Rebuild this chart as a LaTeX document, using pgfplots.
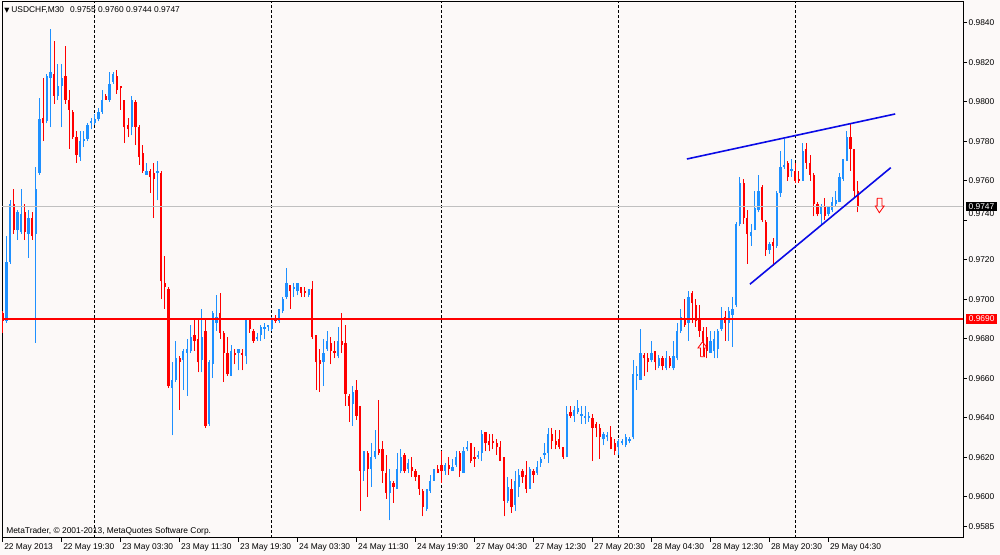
\documentclass[border=0pt]{standalone}
\usepackage{fontspec}
\setmainfont{Liberation Sans}
\newfontfamily\dejavu{DejaVu Sans}
\usepackage{pgfplots}
\usepackage{pgfplotstable}
\pgfplotsset{compat=1.18}
\definecolor{bgc}{RGB}{252,249,248}
\definecolor{bull}{RGB}{30,144,255}
\definecolor{bear}{RGB}{255,0,0}
\definecolor{tline}{RGB}{10,10,230}
\definecolor{bidline}{RGB}{192,192,192}
\newcommand{\lblfont}{\fontsize{6.3}{7.5}\selectfont}

\pgfplotstableread{
i o h l c
0 0.9693 0.9694 0.9683 0.9689
1 0.9689 0.9732 0.9688 0.9719
2 0.9719 0.9750 0.9718 0.9748
3 0.9748 0.9756 0.9733 0.9735
4 0.9735 0.9745 0.9730 0.9744
5 0.9734 0.9756 0.9733 0.9743
6 0.9744 0.9748 0.9730 0.9734
7 0.9733 0.9745 0.9721 0.9741
8 0.9741 0.9744 0.9730 0.9732
9 0.9733 0.9767 0.9678 0.9756
10 0.9764 0.9802 0.9763 0.9791
11 0.9792 0.9812 0.9780 0.9789
12 0.9790 0.9814 0.9789 0.9813
13 0.9812 0.9837 0.9787 0.9815
14 0.9814 0.9831 0.9799 0.9803
15 0.9803 0.9819 0.9801 0.9808
16 0.9808 0.9819 0.9787 0.9812
17 0.9813 0.9828 0.9799 0.9801
18 0.9801 0.9806 0.9776 0.9796
19 0.9795 0.9796 0.9781 0.9782
20 0.9782 0.9785 0.9769 0.9773
21 0.9772 0.9785 0.9770 0.9780
22 0.9780 0.9785 0.9777 0.9781
23 0.9781 0.9789 0.9780 0.9788
24 0.9789 0.9792 0.9786 0.9790
25 0.9789 0.9794 0.9788 0.9791
26 0.9791 0.9797 0.9790 0.9795
27 0.9795 0.9806 0.9794 0.9801
28 0.9803 0.9804 0.9801 0.9801
29 0.9801 0.9815 0.9800 0.9809
30 0.9810 0.9815 0.9809 0.9814
31 0.9813 0.9816 0.9804 0.9806
32 0.9808 0.9808 0.9796 0.9807
33 0.9801 0.9801 0.9779 0.9787
34 0.9788 0.9792 0.9782 0.9786
35 0.9787 0.9803 0.9783 0.9801
36 0.9800 0.9801 0.9778 0.9787
37 0.9787 0.9788 0.9768 0.9772
38 0.9774 0.9778 0.9764 0.9765
39 0.9763 0.9769 0.9763 0.9765
40 0.9765 0.9766 0.9754 0.9762
41 0.9764 0.9769 0.9741 0.9761
42 0.9764 0.9770 0.9750 0.9765
43 0.9764 0.9765 0.9700 0.9709
44 0.9708 0.9722 0.9695 0.9706
45 0.9705 0.9706 0.9655 0.9656
46 0.9655 0.9668 0.9631 0.9659
47 0.9659 0.9679 0.9658 0.9670
48 0.9670 0.9671 0.9644 0.9668
49 0.9669 0.9675 0.9654 0.9674
50 0.9673 0.9680 0.9651 0.9675
51 0.9674 0.9687 0.9673 0.9681
52 0.9682 0.9690 0.9674 0.9679
53 0.9680 0.9690 0.9663 0.9668
54 0.9669 0.9695 0.9663 0.9681
55 0.9684 0.9690 0.9635 0.9636
56 0.9637 0.9669 0.9636 0.9668
57 0.9667 0.9694 0.9660 0.9693
58 0.9688 0.9702 0.9684 0.9691
59 0.9693 0.9703 0.9680 0.9683
60 0.9683 0.9684 0.9658 0.9673
61 0.9673 0.9681 0.9661 0.9662
62 0.9661 0.9677 0.9661 0.9674
63 0.9673 0.9675 0.9667 0.9672
64 0.9673 0.9675 0.9664 0.9675
65 0.9673 0.9675 0.9664 0.9672
66 0.9671 0.9690 0.9667 0.9690
67 0.9690 0.9690 0.9683 0.9685
68 0.9684 0.9685 0.9678 0.9679
69 0.9680 0.9683 0.9679 0.9681
70 0.9682 0.9687 0.9679 0.9686
71 0.9685 0.9688 0.9680 0.9686
72 0.9686 0.9687 0.9684 0.9687
73 0.9685 0.9691 0.9684 0.9690
74 0.9690 0.9692 0.9688 0.9689
75 0.9689 0.9695 0.9688 0.9695
76 0.9694 0.9701 0.9693 0.9700
77 0.9701 0.9716 0.9700 0.9708
78 0.9707 0.9707 0.9695 0.9704
79 0.9705 0.9708 0.9701 0.9706
80 0.9704 0.9708 0.9702 0.9708
81 0.9706 0.9706 0.9701 0.9703
82 0.9704 0.9706 0.9701 0.9703
83 0.9702 0.9705 0.9701 0.9705
84 0.9705 0.9709 0.9680 0.9681
85 0.9682 0.9682 0.9654 0.9668
86 0.9669 0.9675 0.9653 0.9667
87 0.9668 0.9680 0.9656 0.9673
88 0.9675 0.9684 0.9674 0.9679
89 0.9678 0.9681 0.9667 0.9674
90 0.9674 0.9679 0.9670 0.9673
91 0.9671 0.9686 0.9670 0.9679
92 0.9679 0.9693 0.9673 0.9677
93 0.9678 0.9687 0.9646 0.9652
94 0.9651 0.9652 0.9638 0.9646
95 0.9647 0.9656 0.9636 0.9653
96 0.9654 0.9659 0.9639 0.9641
97 0.9646 0.9646 0.9593 0.9613
98 0.9613 0.9623 0.9608 0.9623
99 0.9622 0.9623 0.9600 0.9614
100 0.9614 0.9627 0.9605 0.9620
101 0.9620 0.9634 0.9619 0.9623
102 0.9624 0.9649 0.9621 0.9622
103 0.9624 0.9628 0.9607 0.9613
104 0.9612 0.9621 0.9599 0.9602
105 0.9602 0.9614 0.9588 0.9608
106 0.9607 0.9608 0.9597 0.9605
107 0.9604 0.9622 0.9604 0.9614
108 0.9613 0.9624 0.9612 0.9620
109 0.9621 0.9622 0.9612 0.9613
110 0.9614 0.9619 0.9612 0.9617
111 0.9615 0.9620 0.9610 0.9613
112 0.9613 0.9614 0.9608 0.9610
113 0.9611 0.9611 0.9601 0.9604
114 0.9603 0.9604 0.9590 0.9595
115 0.9594 0.9604 0.9593 0.9604
116 0.9603 0.9611 0.9602 0.9608
117 0.9608 0.9614 0.9608 0.9614
118 0.9614 0.9616 0.9612 0.9612
119 0.9616 0.9623 0.9607 0.9613
120 0.9613 0.9617 0.9611 0.9616
121 0.9616 0.9620 0.9611 0.9614
122 0.9613 0.9619 0.9613 0.9615
123 0.9616 0.9623 0.9615 0.9620
124 0.9622 0.9623 0.9610 0.9613
125 0.9612 0.9625 0.9612 0.9623
126 0.9624 0.9628 0.9623 0.9625
127 0.9627 0.9627 0.9617 0.9618
128 0.9620 0.9625 0.9615 0.9619
129 0.9620 0.9623 0.9619 0.9621
130 0.9622 0.9634 0.9618 0.9632
131 0.9633 0.9633 0.9623 0.9627
132 0.9628 0.9632 0.9623 0.9626
133 0.9628 0.9632 0.9624 0.9627
134 0.9627 0.9629 0.9621 0.9625
135 0.9625 0.9628 0.9618 0.9618
136 0.9620 0.9620 0.9590 0.9598
137 0.9598 0.9610 0.9597 0.9605
138 0.9604 0.9609 0.9592 0.9595
139 0.9596 0.9613 0.9593 0.9608
140 0.9605 0.9614 0.9600 0.9611
141 0.9613 0.9614 0.9607 0.9610
142 0.9611 0.9618 0.9602 0.9604
143 0.9604 0.9615 0.9604 0.9614
144 0.9613 0.9614 0.9607 0.9611
145 0.9612 0.9618 0.9611 0.9615
146 0.9617 0.9620 0.9615 0.9619
147 0.9621 0.9627 0.9619 0.9622
148 0.9622 0.9635 0.9617 0.9632
149 0.9632 0.9635 0.9624 0.9628
150 0.9628 0.9634 0.9624 0.9626
151 0.9629 0.9634 0.9624 0.9625
152 0.9625 0.9625 0.9619 0.9620
153 0.9620 0.9646 0.9620 0.9642
154 0.9643 0.9646 0.9640 0.9641
155 0.9641 0.9646 0.9638 0.9644
156 0.9643 0.9649 0.9642 0.9645
157 0.9641 0.9646 0.9637 0.9642
158 0.9640 0.9646 0.9637 0.9641
159 0.9640 0.9643 0.9638 0.9641
160 0.9640 0.9642 0.9618 0.9635
161 0.9637 0.9638 0.9630 0.9635
162 0.9635 0.9637 0.9619 0.9630
163 0.9629 0.9633 0.9626 0.9632
164 0.9630 0.9633 0.9628 0.9631
165 0.9630 0.9636 0.9624 0.9624
166 0.9627 0.9629 0.9621 0.9623
167 0.9625 0.9629 0.9621 0.9628
168 0.9627 0.9629 0.9626 0.9628
169 0.9626 0.9632 0.9625 0.9630
170 0.9628 0.9630 0.9627 0.9629
171 0.9630 0.9669 0.9629 0.9662
172 0.9661 0.9666 0.9654 0.9662
173 0.9659 0.9685 0.9659 0.9673
174 0.9672 0.9673 0.9661 0.9670
175 0.9670 0.9673 0.9663 0.9668
176 0.9669 0.9679 0.9668 0.9673
177 0.9674 0.9674 0.9664 0.9668
178 0.9666 0.9672 0.9665 0.9670
179 0.9670 0.9671 0.9664 0.9666
180 0.9665 0.9674 0.9664 0.9670
181 0.9670 0.9671 0.9665 0.9666
182 0.9665 0.9679 0.9664 0.9671
183 0.9670 0.9688 0.9669 0.9684
184 0.9684 0.9695 0.9683 0.9691
185 0.9690 0.9700 0.9686 0.9687
186 0.9688 0.9704 0.9679 0.9701
187 0.9703 0.9704 0.9688 0.9698
188 0.9697 0.9700 0.9686 0.9689
189 0.9690 0.9697 0.9681 0.9684
190 0.9684 0.9686 0.9671 0.9679
191 0.9681 0.9686 0.9670 0.9674
192 0.9673 0.9684 0.9673 0.9679
193 0.9674 0.9684 0.9670 0.9680
194 0.9675 0.9685 0.9670 0.9684
195 0.9685 0.9696 0.9684 0.9690
196 0.9691 0.9694 0.9679 0.9688
197 0.9688 0.9696 0.9679 0.9694
198 0.9692 0.9701 0.9676 0.9695
199 0.9697 0.9739 0.9696 0.9738
200 0.9738 0.9762 0.9737 0.9759
201 0.9759 0.9761 0.9738 0.9741
202 0.9741 0.9745 0.9718 0.9733
203 0.9732 0.9738 0.9727 0.9734
204 0.9735 0.9755 0.9735 0.9746
205 0.9745 0.9763 0.9744 0.9755
206 0.9757 0.9758 0.9739 0.9740
207 0.9739 0.9740 0.9722 0.9725
208 0.9725 0.9729 0.9723 0.9728
209 0.9729 0.9731 0.9717 0.9727
210 0.9727 0.9755 0.9726 0.9754
211 0.9754 0.9775 0.9752 0.9767
212 0.9767 0.9781 0.9766 0.9768
213 0.9769 0.9770 0.9760 0.9762
214 0.9765 0.9771 0.9762 0.9766
215 0.9765 0.9769 0.9759 0.9760
216 0.9761 0.9765 0.9759 0.9760
217 0.9760 0.9779 0.9760 0.9775
218 0.9776 0.9779 0.9766 0.9769
219 0.9769 0.9773 0.9760 0.9763
220 0.9763 0.9764 0.9742 0.9748
221 0.9748 0.9749 0.9742 0.9743
222 0.9743 0.9748 0.9738 0.9747
223 0.9747 0.9751 0.9740 0.9742
224 0.9743 0.9747 0.9742 0.9747
225 0.9745 0.9752 0.9744 0.9749
226 0.9748 0.9755 0.9747 0.9750
227 0.9749 0.9764 0.9749 0.9762
228 0.9761 0.9771 0.9760 0.9771
229 0.9770 0.9785 0.9770 0.9782
230 0.9782 0.9789 0.9765 0.9776
231 0.9776 0.9776 0.9752 0.9755
232 0.9755 0.9760 0.9744 0.9747
}\candles

\begin{document}
\begin{tikzpicture}
\fill[bgc] (0,0) rectangle (750pt,416.25pt);
\begin{axis}[
  at={(1.5pt,12.75pt)}, anchor=south west,
  scale only axis, width=720.75pt, height=402pt,
  xmin=-0.19, xmax=260.5, ymin=0.95791, ymax=0.98505,
  axis line style={black, line width=0.75pt},
  tick style={black, line width=0.75pt},
  tick align=outside, major tick length=3pt,
  xtick pos=bottom, ytick pos=right, yticklabel pos=right,
  xtick={0,16,...,224},
  xticklabels={22 May 2013,22 May 19:30,23 May 03:30,23 May 11:30,23 May 19:30,24 May 03:30,24 May 11:30,24 May 19:30,27 May 04:30,27 May 12:30,27 May 20:30,28 May 04:30,28 May 12:30,28 May 20:30,29 May 04:30},
  xticklabel style={anchor=north west, inner sep=0pt, xshift=1pt, yshift=-1.2pt, font=\lblfont},
  ytick={0.9585,0.96,0.962,0.964,0.966,0.968,0.97,0.972,0.976,0.978,0.98,0.982,0.984},
  extra y ticks={0.974},
  extra y tick style={yticklabel style={yshift=5pt}},
  scaled y ticks=false,
  /pgf/number format/fixed,
  /pgf/number format/fixed zerofill,
  /pgf/number format/precision=4,
  /pgf/number format/assume math mode=true,
  yticklabel style={anchor=west, inner sep=0pt, xshift=1pt, font=\lblfont},
  extra x ticks={25,73,119,167,215},
  extra x tick labels={},
  extra x tick style={grid=major, major tick length=0pt,
    major grid style={black, line width=0.75pt, dash pattern=on 2.25pt off 1.5pt}},
]
% bullish wicks and bodies
\addplot[draw=none, mark=none, forget plot,
  restrict expr to domain={\thisrow{c}-\thisrow{o}}{0:1},
  error bars/.cd, y dir=plus, y explicit, error mark=none,
  error bar style={draw=bull, line width=0.75pt}]
  table[x=i, y=l, y error plus expr=\thisrow{h}-\thisrow{l}] {\candles};
\addplot[draw=none, mark=none, forget plot,
  restrict expr to domain={\thisrow{c}-\thisrow{o}}{0:1},
  error bars/.cd, y dir=plus, y explicit, error mark=none,
  error bar style={draw=bull, line width=1.7pt}]
  table[x=i, y=o, y error plus expr=\thisrow{c}-\thisrow{o}] {\candles};
% bearish wicks and bodies
\addplot[draw=none, mark=none, forget plot,
  restrict expr to domain={\thisrow{o}-\thisrow{c}}{0:1},
  error bars/.cd, y dir=plus, y explicit, error mark=none,
  error bar style={draw=bear, line width=0.75pt}]
  table[x=i, y=l, y error plus expr=\thisrow{h}-\thisrow{l}] {\candles};
\addplot[draw=none, mark=none, forget plot,
  restrict expr to domain={\thisrow{o}-\thisrow{c}}{0:1},
  error bars/.cd, y dir=plus, y explicit, error mark=none,
  error bar style={draw=bear, line width=1.7pt}]
  table[x=i, y=c, y error plus expr=\thisrow{o}-\thisrow{c}] {\candles};
% horizontal lines
\addplot[bidline, line width=0.75pt] coordinates {(-1,0.9747) (262,0.9747)};
\addplot[bear, line width=1pt] coordinates {(-1,0.9690) (262,0.9690)};
% trend lines
\addplot[tline, line width=1.2pt] coordinates {(185.6,0.97710) (242.1,0.97938)};
\addplot[tline, line width=1.2pt] coordinates {(202.7,0.97076) (240.9,0.97666)};
% arrows
\addplot[bear, line width=0.6pt] coordinates {(189.3,0.96709) (189.3,0.96753) (188.6,0.96753) (189.85,0.96785) (191.1,0.96753) (190.4,0.96753) (190.4,0.96709) (189.3,0.96709)};
\addplot[bear, line width=0.6pt] coordinates {(237.2,0.97511) (238.5,0.97511) (238.5,0.97472) (239.1,0.97472) (237.8,0.97438) (236.7,0.97472) (237.2,0.97472) (237.2,0.97511)};
\coordinate (bidlbl) at (axis cs:260.5,0.9747);
\coordinate (redlbl) at (axis cs:260.5,0.9690);
\end{axis}
\node[fill=black, text=white, anchor=west, inner sep=0pt, minimum width=23.25pt, minimum height=6.75pt, font=\lblfont] at ([xshift=2pt]bidlbl) {0.9747};
\node[fill=bear, text=white, anchor=west, inner sep=0pt, minimum width=23.5pt, minimum height=7.5pt, font=\lblfont] at ([xshift=2pt]redlbl) {0.9690};
\node[anchor=west, inner sep=0pt, font=\lblfont] at (3pt,408.6pt) {{\dejavu\fontsize{5}{6}\selectfont ▼}\hspace{1.5pt}USDCHF,M30\hspace{4.5pt}0.9755 0.9760 0.9744 0.9747};
\node[anchor=west, inner sep=0pt, font=\lblfont] at (4.5pt,17.4pt) {MetaTrader, © 2001-2013, MetaQuotes Software Corp.};
\pgfresetboundingbox
\useasboundingbox (0,0) rectangle (750pt,416.25pt);
\end{tikzpicture}
\end{document}
